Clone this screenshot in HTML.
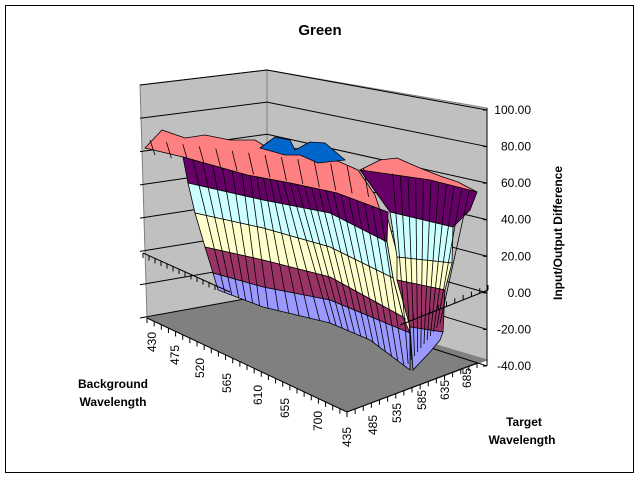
<!DOCTYPE html>
<html><head><meta charset="utf-8"><style>
body{margin:0;background:#fff;}
svg{display:block;font-family:"Liberation Sans",Arial,sans-serif;}
</style></head><body>
<svg id="s" width="640" height="480" viewBox="0 0 640 480" xmlns="http://www.w3.org/2000/svg">
<rect x="0" y="0" width="640" height="480" fill="#fff"/>
<rect x="5.5" y="5.5" width="628" height="467" fill="none" stroke="#000" stroke-width="1"/>
<text x="320" y="35" text-anchor="middle" font-size="15" font-weight="bold">Green</text>
<polygon points="140,85 267,70 267,295 147,318" fill="#c0c0c0" stroke="#808080"/>
<polygon points="267,70 487,108 487,360 267,295" fill="#c0c0c0" stroke="#808080"/>
<polygon points="147,318 267,295 487,360 347,412" fill="#808080" stroke="#808080"/>
<g id="grid" stroke="#000" stroke-width="1"></g>
<g id="surf" stroke="#000" stroke-width="0.8"></g>
<line x1="487" y1="108" x2="487" y2="366" stroke="#000"/>
<g id="zt" font-size="12"></g>
<line x1="147" y1="318" x2="347" y2="412" stroke="#000"/>
<line x1="347" y1="412" x2="477" y2="363" stroke="#000"/>
<g id="ticks" stroke="#000"></g>
<g font-size="12" id="cl"></g>
<text x="113" y="388" text-anchor="middle" font-size="12" font-weight="bold">Background</text>
<text x="113" y="406" text-anchor="middle" font-size="12" font-weight="bold">Wavelength</text>
<text x="524" y="426" text-anchor="middle" font-size="12" font-weight="bold">Target</text>
<text x="522" y="444" text-anchor="middle" font-size="12" font-weight="bold">Wavelength</text>
<text transform="translate(562,233) rotate(-90)" text-anchor="middle" font-size="12" font-weight="bold">Input/Output Difference</text>
</svg>
<script>
var NS="http://www.w3.org/2000/svg";
function el(p,t,a,txt){var e=document.createElementNS(NS,t);for(var k in a)e.setAttribute(k,a[k]);if(txt!=null)e.textContent=txt;document.getElementById(p).appendChild(e);return e;}
function lerp(a,b,t){return a+(b-a)*t;}
var vals=["100.00","80.00","60.00","40.00","20.00","0.00","-20.00","-40.00"];
for(var i=0;i<8;i++){
 var t=i/7;
 var yr=lerp(110,366,t), yb=lerp(70,295,t), yl=lerp(85,318,t);
 el("grid","polyline",{points:"140,"+yl+" 267,"+yb+" 487,"+yr,fill:"none"});
 el("zt","text",{x:531,y:yr+4,"text-anchor":"end"},vals[i]);
 el("zt","line",{x1:483,y1:yr,x2:487,y2:yr,stroke:"#000"});
}
el("ticks","line",{x1:143,y1:253,x2:230,y2:292});
el("ticks","line",{x1:488,y1:290,x2:400,y2:325});
for(var i=0;i<=12;i++){var x=lerp(143,215,i/12),y=lerp(253,285,i/12);el("ticks","line",{x1:x,y1:y,x2:x,y2:y+5});}
for(var i=0;i<=10;i++){var x=lerp(488,405,i/10),y=lerp(290,323,i/10);el("ticks","line",{x1:x,y1:y,x2:x,y2:y-5});}
for(var i=0;i<=28;i++){var x=lerp(147,347,i/28),y=lerp(318,412,i/28);el("ticks","line",{x1:x,y1:y,x2:x,y2:y+5});}
for(var i=0;i<=16;i++){var x=lerp(347,477,i/16),y=lerp(412,363,i/16);el("ticks","line",{x1:x,y1:y,x2:x,y2:y+5});}
var L=[["430",152,342],["475",175,355],["520",200,368],["565",227,383],["610",258,395],["655",285,408],["700",318,421],
["435",347,437],["485",373,425],["535",397,413],["585",422,400],["635",445,390],["685",467,378]];
L.forEach(function(a){el("cl","text",{transform:"translate("+(a[1]+4)+","+a[2]+") rotate(-90)","text-anchor":"middle"},a[0]);});
function band(top,bot,fill){
 var pts=top.map(function(p){return p.join(",")}).concat(bot.slice().reverse().map(function(p){return p.join(",")}));
 el("surf","polygon",{points:pts.join(" "),fill:fill});
}
function interp(line,t){var n=line.length-1,f=t*n,i=Math.min(Math.floor(f),n-1),r=f-i;return [lerp(line[i][0],line[i+1][0],r),lerp(line[i][1],line[i+1][1],r)];}
function vlines(top,bot,n){for(var i=1;i<n;i++){var a=interp(top,i/n),b=interp(bot,i/n);el("surf","line",{x1:a[0],y1:a[1],x2:b[0],y2:b[1]});}}
// fold filler
el("surf","polygon",{points:"386,212 398,257 398,280 411,328 411,340 403,317 393,278 387,242",fill:"#ffffcc"});
el("surf","polygon",{points:"145,148 162,130 185,138 205,135 230,140 255,140 268,148 290,147 310,152 340,162 358,170 375,195 385,225 383,236 337,193 290,183 247,175 183,157",fill:"#ff8080"});
el("surf","polygon",{points:"260,148 275,137 290,140 295,150 310,142 325,143 345,160 318,163 300,155 285,155",fill:"#0066cc"});
el("surf","polygon",{points:"360,170 380,160 397,158 420,168 440,176 458,182 477,192 430,180",fill:"#ff8080"});
for(var i=0;i<14;i++){var x=lerp(150,380,i/14);el("surf","line",{x1:x,y1:lerp(140,170,i/14),x2:x+5,y2:lerp(155,200,i/14)});}
var Lp=[
 [[183,157],[247,175],[290,183],[337,193],[388,212]],
 [[188,183],[263,200],[330,213],[387,242]],
 [[195,213],[263,228],[330,247],[393,278]],
 [[205,247],[263,260],[330,277],[403,317]],
 [[213,273],[263,287],[330,300],[410,333]],
 [[218,290],[263,307],[330,323],[370,340],[410,370]]];
var LC=["#660066","#ccffff","#ffffcc","#993366","#9999ff"];
for(var i=0;i<5;i++)band(Lp[i],Lp[i+1],LC[i]);
vlines(Lp[0],Lp[5],26);
var rb=[[[360,170],[430,180],[477,192],[470,210],[453,227],[390,212]],
 [[390,212],[453,227],[452,263],[397,257]],
 [[397,257],[452,263],[445,290],[397,280]],
 [[397,280],[445,290],[443,332],[410,327]],
 [[410,327],[443,332],[440,340],[430,352],[413,370]]];
for(var i=0;i<5;i++)el("surf","polygon",{points:rb[i].map(function(p){return p.join(",")}).join(" "),fill:LC[i]});
vlines([[385,172],[477,192]],[[405,368],[443,320]],12);
</script>
</body></html>
